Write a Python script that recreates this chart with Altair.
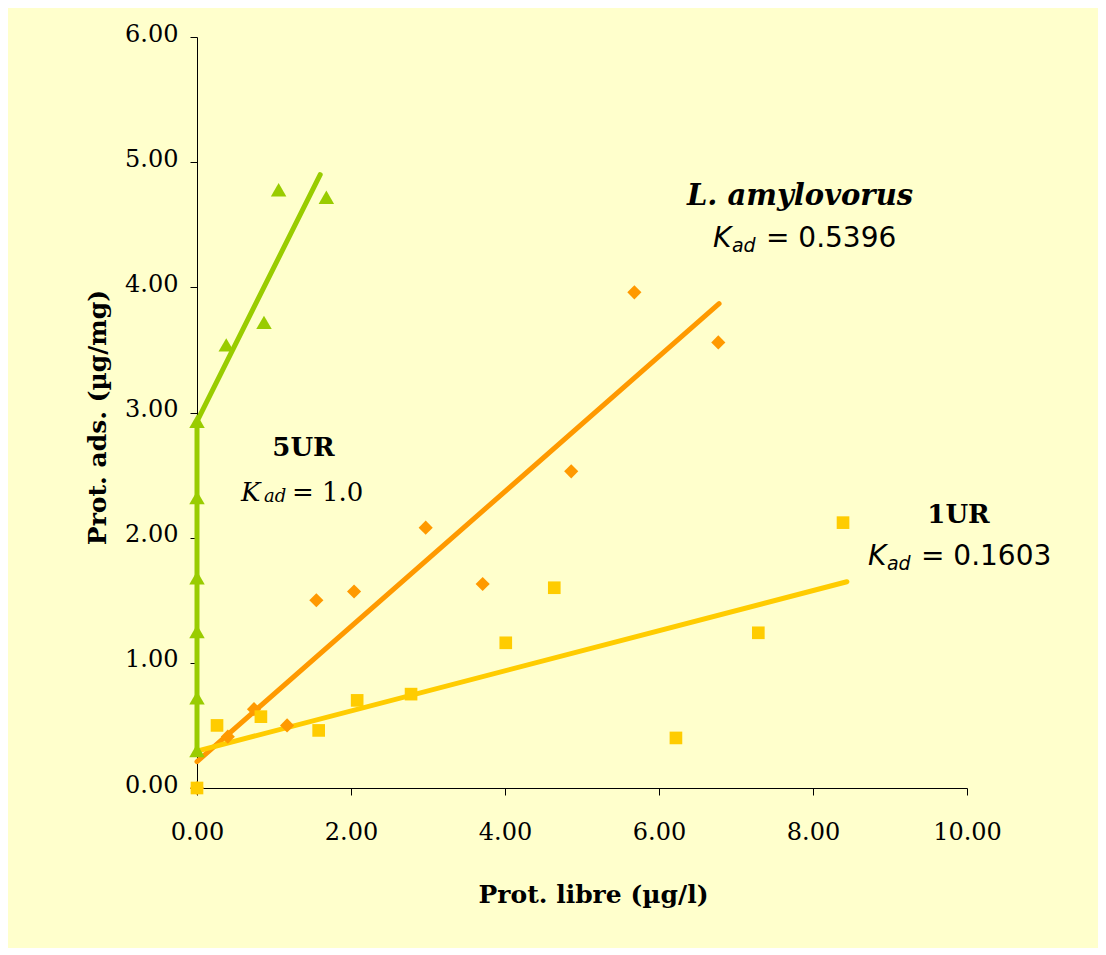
import altair as alt
import pandas as pd

# ---- data ----
# 5UR (green triangles)
ur5_x = [0.00, 0.00, 0.00, 0.00, 0.00, 0.00, 0.38, 0.87, 1.06, 1.68]
ur5_y = [0.30, 0.72, 1.25, 1.68, 2.32, 2.93, 3.54, 3.72, 4.78, 4.72]
# L. amylovorus (orange diamonds)
lam_x = [0.00, 0.40, 0.74, 1.17, 1.55, 2.04, 2.97, 3.71, 4.86, 5.68, 6.77]
lam_y = [0.00, 0.41, 0.63, 0.50, 1.50, 1.57, 2.08, 1.63, 2.53, 3.96, 3.56]
# 1UR (yellow squares)
ur1_x = [0.00, 0.26, 0.83, 1.58, 2.08, 2.78, 4.01, 4.64, 6.22, 7.29, 8.39]
ur1_y = [0.00, 0.50, 0.57, 0.46, 0.70, 0.75, 1.16, 1.60, 0.40, 1.24, 2.12]

# fitted lines (end points)
lam_fit_x = [0.00, 6.78]
lam_fit_y = [0.21, 3.87]
ur1_fit_x = [0.00, 8.44]
ur1_fit_y = [0.295, 1.648]
ur5_fit_x = [0.00, 0.00, 1.60]
ur5_fit_y = [0.27, 2.93, 4.90]

x_ticks = [0, 2, 4, 6, 8, 10]
y_ticks = [0, 1, 2, 3, 4, 5, 6]

series_names = ["L. amylovorus", "1UR", "5UR"]
series_colors = ["#FF9900", "#FFCC00", "#99CC00"]

GREEN, ORANGE, YELLOW = "#99CC00", "#FF9900", "#FFCC00"
SERIF = "DejaVu Serif"
SANS = "DejaVu Sans"

xs = alt.Scale(domain=[0, 10], nice=False, zero=False)
ys = alt.Scale(domain=[0, 6], nice=False, zero=False)

x_axis = alt.Axis(values=x_ticks, format=".2f", grid=False,
                  domainColor="black", tickColor="black", tickSize=7,
                  labelFont=SERIF, labelFontSize=24, labelColor="black",
                  labelPadding=44, labelBaseline="alphabetic",
                  labelFlush=False, labelOverlap=False,
                  title="Prot. libre (µg/l)", titleFont=SERIF, titleFontSize=25,
                  titleFontWeight="bold", titleColor="black",
                  titleX=396, titleY=114, titleAlign="center",
                  titleBaseline="alphabetic")
y_axis = alt.Axis(values=y_ticks, format=".2f", grid=False,
                  domainColor="black", tickColor="black", tickSize=7,
                  labelFont=SERIF, labelFontSize=24, labelColor="black",
                  labelPadding=12, labelOffset=-3,
                  labelFlush=False, labelOverlap=False,
                  title="Prot. ads. (µg/mg)", titleFont=SERIF, titleFontSize=25,
                  titleFontWeight="bold", titleColor="black",
                  titleX=-92, titleY=380, titleAngle=270, titleAlign="center",
                  titleBaseline="alphabetic")

# line table
rows = []
for name, fx, fy in [("L. amylovorus", lam_fit_x, lam_fit_y),
                     ("1UR", ur1_fit_x, ur1_fit_y),
                     ("5UR", ur5_fit_x, ur5_fit_y)]:
    for i, (a, b) in enumerate(zip(fx, fy)):
        rows.append({"series": name, "x": a, "y": b, "i": i})
lines_df = pd.DataFrame(rows)

color_scale = alt.Scale(domain=series_names, range=series_colors)

lines = alt.Chart(lines_df).mark_line(strokeWidth=5, strokeCap="round").encode(
    x=alt.X("x:Q", scale=xs, axis=x_axis),
    y=alt.Y("y:Q", scale=ys, axis=y_axis),
    color=alt.Color("series:N", scale=color_scale, legend=None),
    detail="series:N",
    order="i:Q",
)

def pts(xv, yv, shape, size, color):
    df = pd.DataFrame({"x": xv, "y": yv})
    return alt.Chart(df).mark_point(shape=shape, size=size, filled=True,
                                    opacity=1, color=color, strokeWidth=0).encode(
        x=alt.X("x:Q", scale=xs, axis=x_axis),
        y=alt.Y("y:Q", scale=ys, axis=y_axis),
    )

p5 = pts(ur5_x, ur5_y, "triangle-up", 240, GREEN)
pl = pts(lam_x, lam_y, "diamond", 200, ORANGE)
p1 = pts(ur1_x, ur1_y, "square", 160, YELLOW)

def txt(x, y, text, font, size, weight="normal", style="normal", align="left", dx=0, dy=0):
    df = pd.DataFrame({"x": [x], "y": [y], "t": [text]})
    return alt.Chart(df).mark_text(font=font, fontSize=size, fontWeight=weight,
                                   fontStyle=style, align=align, baseline="alphabetic",
                                   color="black", dx=dx, dy=dy).encode(
        x=alt.X("x:Q", scale=xs), y=alt.Y("y:Q", scale=ys), text="t:N")

# annotation anchors (data coordinates)
labels = [
    # 5UR
    txt(1.383, 2.652, "5UR", SERIF, 26, weight="bold", align="center"),
    txt(0.571, 2.292, "K", SERIF, 26, style="italic"),
    txt(0.571, 2.292, "ad", SERIF, 18, style="italic", dx=23, dy=1),
    txt(0.571, 2.292, "= 1.0", SERIF, 26, dx=51),
    # L. amylovorus
    txt(7.831, 4.657, "L. amylovorus", SERIF, 29, weight="bold", style="italic", align="center"),
    txt(6.701, 4.321, "K", SANS, 28, style="italic"),
    txt(6.701, 4.321, "ad", SANS, 19, style="italic", dx=19, dy=5),
    txt(6.701, 4.321, "= 0.5396", SANS, 28, dx=53),
    # 1UR
    txt(9.890, 2.117, "1UR", SERIF, 26, weight="bold", align="center"),
    txt(8.714, 1.781, "K", SANS, 28, style="italic"),
    txt(8.714, 1.781, "ad", SANS, 19, style="italic", dx=19, dy=5),
    txt(8.714, 1.781, "= 0.1603", SANS, 28, dx=53),
]

chart = alt.layer(lines, p5, pl, p1, *labels).properties(
    width=770, height=751,
    autosize=alt.AutoSizeParams(type="none"),
    padding={"left": 189, "top": 29, "right": 131, "bottom": 160},
    background="#FFFFCC",
).configure_view(stroke=None)

chart.save("out.html", embed_options={"renderer": "svg", "actions": False})
